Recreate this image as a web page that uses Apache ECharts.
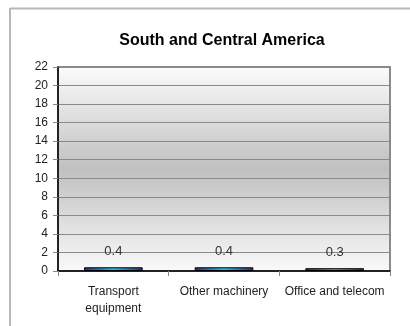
<!DOCTYPE html>
<html><head><meta charset="utf-8">
<script src="https://cdn.jsdelivr.net/npm/echarts@6/dist/echarts.min.js"></script>
<style>html,body{margin:0;padding:0;background:#fff}#c{width:410px;height:326px;position:relative}</style>
</head><body><div id="c"></div>
<script>
const categories = ['Transport\nequipment', 'Other machinery', 'Office and telecom'];
const values = [0.4, 0.4, 0.3];
const yTicks = {min: 0, max: 22, interval: 2};
const title = 'South and Central America';

const chart = echarts.init(document.getElementById('c'), null, {renderer: 'canvas'});
chart.setOption({
  animation: false,
  backgroundColor: '#fff',
  title: {text: title, left: 217, top: 28, textAlign: 'center',
    textStyle: {fontFamily: 'Liberation Sans', fontSize: 16, fontWeight: 'bold', color: '#000'}},
  graphic: [
    {type: 'line', shape: {x1: 10, y1: 8.5, x2: 410, y2: 8.5}, style: {stroke: '#b8b8b8', lineWidth: 2}},
    {type: 'line', shape: {x1: 10, y1: 8, x2: 10, y2: 326}, style: {stroke: '#b8b8b8', lineWidth: 2}}
  ],
  grid: {left: 58, right: 20, top: 67, bottom: 55, show: true,
    borderColor: '#8a8a8a', borderWidth: 2,
    backgroundColor: new echarts.graphic.LinearGradient(0, 0, 0, 1, [
      {offset: 0, color: '#fcfcfc'},
      {offset: 0.5, color: '#c0c0c0'},
      {offset: 1, color: '#fafafa'}
    ])},
  xAxis: {type: 'category', data: categories,
    axisLine: {lineStyle: {color: '#000', width: 1.5}},
    axisTick: {show: true, alignWithLabel: false, length: 5, lineStyle: {color: '#888'}},
    axisLabel: {fontFamily: 'Liberation Sans', fontSize: 12, color: '#222', lineHeight: 17, margin: 12, interval: 0}},
  yAxis: {type: 'value', min: yTicks.min, max: yTicks.max, interval: yTicks.interval,
    axisLine: {show: true, lineStyle: {color: '#000', width: 1.5}},
    axisTick: {show: true, length: 5, lineStyle: {color: '#888'}},
    splitLine: {lineStyle: {color: '#8a8a8a', width: 1}},
    axisLabel: {fontFamily: 'Liberation Sans', fontSize: 12, color: '#222', margin: 10}},
  series: [{type: 'bar', data: values, barWidth: '53%',
    itemStyle: {borderColor: '#000', borderWidth: 1,
      color: new echarts.graphic.LinearGradient(0, 0, 1, 0, [
        {offset: 0, color: '#2a2f7a'},
        {offset: 0.5, color: '#22c4f0'},
        {offset: 1, color: '#2a2f7a'}
      ])},
    label: {show: true, position: 'top', distance: 9, fontFamily: 'Liberation Sans', fontSize: 13, color: '#333',
      formatter: p => p.value.toFixed(1)}}]
});
</script></body></html>
